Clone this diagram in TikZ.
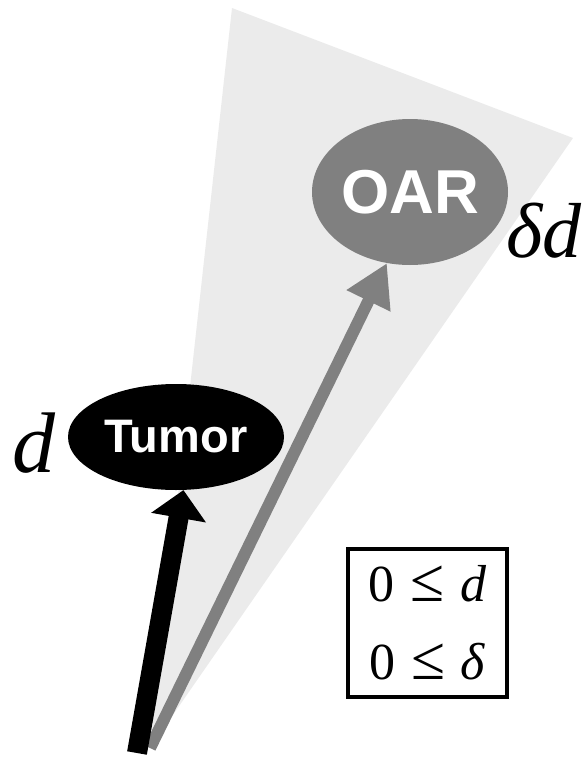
\documentclass[tikz,border=0pt]{standalone}
\usepackage{fontspec}
\setmainfont{Liberation Serif}
\newfontfamily\arialfont{Liberation Sans}
\usetikzlibrary{shapes.geometric, arrows.meta, positioning}

\definecolor{beamgray}{HTML}{EBEBEB}
\definecolor{oargray}{HTML}{808080}
\newcommand{\bigleq}{\hspace{0.3em}{\fontsize{62}{78}\selectfont ≤}\hspace{0.3em}}

\begin{document}
\begin{tikzpicture}[
    x=1pt, y=-1pt,
    organ/.style={
        ellipse, inner sep=0pt, text=white
    },
    dose/.style={inner sep=0pt, font=\fontsize{86}{86}\selectfont\itshape},
    tumorarrow/.style={-{Triangle[width=54pt, length=28pt]}, line width=20pt, draw=black},
    oararrow/.style={-{Triangle[width=46pt, length=42pt]}, line width=12pt, draw=oargray},
    constraint/.style={
        rectangle, draw=black, line width=3.5pt, inner sep=0pt,
        minimum width=159pt, minimum height=148pt, align=center,
        font=\fontsize{52}{78}\selectfont
    }
]
\useasboundingbox (0,0) rectangle (584,763);

% Beam
\fill[beamgray] (150,748) -- (232,8) -- (573,138) -- cycle;
\coordinate (beamsrc) at (150,748);
\coordinate (tumorsrc) at (137,753);

% Organs
\node[organ, fill=black, minimum width=216pt, minimum height=106pt,
      font=\arialfont\bfseries\fontsize{47}{47}\selectfont] (tumor) at (176,437) {Tumor};
\node[organ, fill=oargray, minimum width=196pt, minimum height=146pt,
      font=\arialfont\bfseries\fontsize{62}{62}\selectfont] (oar) at (410,192) {OAR};

% Doses
\node[dose, left=12pt of tumor, yshift=-6pt] (tumordose) {d};
\node[dose, anchor=base west, font=\fontsize{78}{78}\selectfont\itshape] (oardose) at (506,257) {δd};

% Rays
\draw[oararrow] (beamsrc) -- (oar.-108);
\draw[tumorarrow] (tumorsrc) -- (tumor.-82);

% Constraints
\node[constraint] (bounds) at (427.5,623) {0\bigleq\textit{d}\\0\bigleq\textit{δ}};

\end{tikzpicture}
\end{document}
